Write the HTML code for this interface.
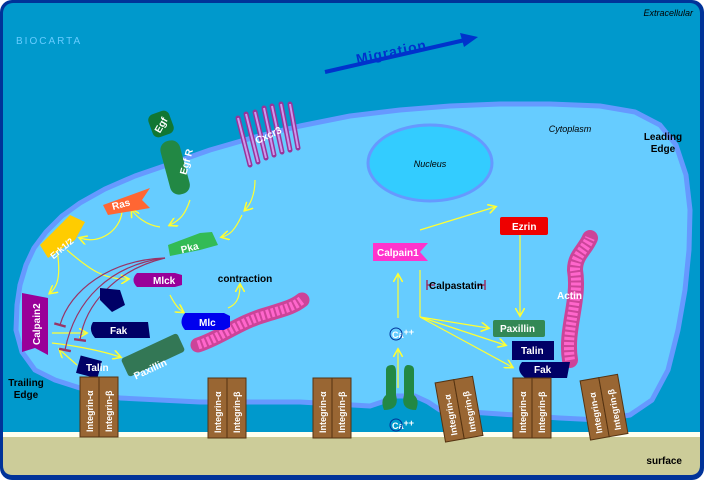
<!DOCTYPE html><html><head><style>body{margin:0;background:#fff}svg{display:block;font-family:"Liberation Sans",sans-serif}</style></head><body>
<svg width="704" height="480" viewBox="0 0 704 480">
<defs><marker id="a" markerWidth="8" markerHeight="8" refX="6" refY="4" orient="auto"><path d="M0,0 L7,4 L0,8" fill="none" stroke="#ffff33" stroke-width="1.3"/></marker>
<marker id="t" markerWidth="4" markerHeight="10" refX="2" refY="5" orient="auto"><path d="M2,0 L2,10" stroke="#993366" stroke-width="2"/></marker></defs>
<rect x="0" y="0" width="704" height="480" rx="12" fill="#003399"/>
<rect x="3" y="3" width="697" height="472" rx="10" fill="#0099cc"/>
<polygon points="16,330 17,305 20,285 26,265 34,248 46,232 62,216 80,203 105,189 135,176 170,164 210,150 255,137 300,126 350,116 400,110 450,106 500,104 550,104 600,106 635,112 660,125 676,145 686,175 690,210 689,250 685,290 678,330 668,370 652,400 630,415 600,420 560,418 500,414 440,410 428,402 415,396 395,396 382,402 370,406 300,402 200,402 120,398 80,388 55,380 35,370 22,352" fill="#66ccff" stroke="#6699ff" stroke-width="5" stroke-linejoin="round"/>
<rect x="3" y="432" width="697" height="6" fill="#ffffee"/>
<path d="M3,437 H700 V465 Q700,475 690,475 H13 Q3,475 3,465 Z" fill="#cccc99"/>
<text x="693" y="16" font-size="9" font-style="italic" text-anchor="end">Extracellular</text>
<text x="16" y="44" font-size="10" fill="#66ccff" letter-spacing="2">BIOCARTA</text>
<text x="682" y="464" font-size="10" font-weight="bold" text-anchor="end">surface</text>
<path d="M325,72 L465,40" stroke="#0033cc" stroke-width="4"/><path d="M478,37 L460,33 L464,47 Z" fill="#0033cc"/>
<text x="355" y="57" font-size="14" font-weight="bold" fill="#0033cc" transform="rotate(-12 390 50)" letter-spacing="1">Migration</text>
<ellipse cx="430" cy="163" rx="62" ry="38" fill="#33ccff" stroke="#6699ff" stroke-width="3"/>
<text x="430" y="167" font-size="9" font-style="italic" text-anchor="middle">Nucleus</text>
<text x="570" y="132" font-size="9" font-style="italic" text-anchor="middle">Cytoplasm</text>
<text x="663" y="140" font-size="10" font-weight="bold" text-anchor="middle">Leading</text><text x="663" y="152" font-size="10" font-weight="bold" text-anchor="middle">Edge</text>
<text x="26" y="386" font-size="10" font-weight="bold" text-anchor="middle">Trailing</text><text x="26" y="398" font-size="10" font-weight="bold" text-anchor="middle">Edge</text>
<g fill="none" stroke="#ffff33" stroke-width="1.2" marker-end="url(#a)">
<path d="M190,200 C185,215 180,220 170,225"/><path d="M160,227 C145,225 135,215 132,210"/>
<path d="M122,212 C120,230 100,245 80,238"/><path d="M255,180 C255,195 250,205 245,210"/><path d="M242,215 C235,230 230,235 222,237"/>
<path d="M57,248 C60,270 60,285 50,293"/><path d="M67,250 C90,270 105,280 128,279"/><path d="M170,295 C175,305 180,310 183,312"/>
<path d="M228,308 C235,305 240,300 240,285"/><path d="M52,333 L86,333"/><path d="M52,343 C70,345 100,350 120,357"/><path d="M77,365 L60,350"/>
<path d="M420,230 L495,207"/><path d="M520,217 L520,315"/><path d="M398,318 L398,275"/><path d="M398,388 L398,350"/>
<path d="M420,317 L488,328"/><path d="M420,317 L505,345"/><path d="M420,317 L512,367"/>
</g>
<path d="M420,270 L420,317" stroke="#ffff33" stroke-width="1.2"/>
<g fill="none" stroke="#993366" stroke-width="1.2" marker-end="url(#t)">
<path d="M165,258 C110,260 70,290 60,325"/><path d="M165,258 C110,265 75,300 65,350"/><path d="M165,258 C115,270 85,305 80,340"/>
</g>
<path d="M427,285 H435 M427,280 V290 M477,285 H485 M485,280 V290" stroke="#993366" stroke-width="1.5" fill="none"/>
<text x="456" y="289" font-size="10" font-weight="bold" text-anchor="middle">Calpastatin</text>
<text x="245" y="282" font-size="10" font-weight="bold" text-anchor="middle">contraction</text>
<g font-weight="bold" font-size="10" fill="#fff">
<rect x="150" y="112" width="22" height="24" rx="6" fill="#117733" transform="rotate(-20 161 124)"/><text x="152" y="128" transform="rotate(-60 161 124)">Egf</text>
<rect x="165" y="140" width="20" height="55" rx="9" fill="#228844" transform="rotate(-15 175 167)"/><text x="170" y="180" transform="rotate(-75 175 167)">Egf R</text>
<g stroke="#993399" stroke-width="5" stroke-linecap="round"><path d="M238,118 L250,165 M246,114 L258,162 M255,112 L266,158 M264,108 L274,155 M272,106 L282,152 M281,104 L290,150 M290,104 L298,148"/></g>
<g stroke="#cc99ee" stroke-width="2"><path d="M238,118 L250,165 M246,114 L258,162 M255,112 L266,158 M264,108 L274,155 M272,106 L282,152 M281,104 L290,150 M290,104 L298,148"/></g>
<text x="254" y="140" transform="rotate(-25 265 135)">Cxcr3</text>
<path d="M103,205 L150,188 L142,200 L150,208 L108,215 Z" fill="#ff6633"/><text x="112" y="208" transform="rotate(-15 120 205)">Ras</text>
<path d="M40,245 L70,215 L85,222 L75,240 L48,258 Z" fill="#ffcc00"/><text x="42" y="252" font-size="9" transform="rotate(-40 58 240)">Erk1/2</text>
<path d="M168,245 L200,233 L212,232 L218,245 L200,250 L170,256 Z" fill="#33bb55"/><text x="180" y="251" transform="rotate(-15 190 245)">Pka</text>
<path d="M137,273 H175 L182,275 V285 L175,287 H137 Q130,280 137,273 Z" fill="#990099"/><text x="153" y="284">Mlck</text>
<path d="M198,345 C220,338 240,322 265,315 C280,310 292,308 302,300" stroke="#cc4499" stroke-width="15" fill="none" stroke-linecap="round"/>
<path d="M198,345 C220,338 240,322 265,315 C280,310 292,308 302,300" stroke="#ff66cc" stroke-width="9" fill="none" stroke-dasharray="3 2"/>
<path d="M185,313 H224 L230,316 V327 L224,330 H185 Q178,322 185,313 Z" fill="#0000ee"/><text x="199" y="326">Mlc</text>
<path d="M100,288 L120,290 L125,305 L112,312 L100,300 Z" fill="#000066"/>
<path d="M93,322 H140 L148,322 L150,338 H95 Q88,330 93,322 Z" fill="#000066"/><text x="110" y="334">Fak</text>
<path d="M22,293 L48,298 L48,355 L35,348 L22,352 Z" fill="#990099"/><text x="40" y="345" transform="rotate(-90 40 345)">Calpain2</text>
<rect x="78" y="358" width="22" height="18" fill="#000066" transform="rotate(15 89 367)"/><text x="86" y="371">Talin</text>
<rect x="122" y="345" width="62" height="20" rx="3" fill="#337755" transform="rotate(-25 153 355)"/><text x="127" y="370" transform="rotate(-25 153 355)">Paxillin</text>
<path d="M570,360 C565,330 580,300 575,270 C575,255 585,250 590,238" stroke="#cc4499" stroke-width="16" fill="none" stroke-linecap="round"/>
<path d="M570,360 C565,330 580,300 575,270 C575,255 585,250 590,238" stroke="#ff66cc" stroke-width="10" fill="none" stroke-dasharray="3 2"/>
<text x="557" y="299">Actin</text>
<path d="M373,243 H428 L420,252 L428,261 H373 Z" fill="#ff33cc"/><text x="377" y="256">Calpain1</text>
<rect x="500" y="217" width="48" height="18" rx="2" fill="#ee0000"/><text x="512" y="230">Ezrin</text>
<rect x="493" y="320" width="52" height="17" rx="2" fill="#338855"/><text x="500" y="332">Paxillin</text>
<rect x="512" y="341" width="42" height="19" fill="#000066"/><text x="521" y="354">Talin</text>
<path d="M522,362 H570 L567,378 H525 Q515,370 522,362 Z" fill="#000066"/><text x="534" y="373">Fak</text>
<text x="392" y="338" font-size="9">Ca<tspan dy="-3">++</tspan></text><circle cx="396" cy="334" r="6" fill="none" stroke="#003399"/>
<text x="392" y="429" font-size="9">Ca<tspan dy="-3">++</tspan></text><circle cx="396" cy="425" r="6" fill="none" stroke="#003399"/>
<path d="M386,370 Q386,365 392,365 Q396,365 396,372 V395 Q400,410 384,410 Q380,400 386,395 Z" fill="#228844"/>
<path d="M414,370 Q414,365 408,365 Q404,365 404,372 V395 Q400,410 416,410 Q420,400 414,395 Z" fill="#228844"/>
<g font-size="9">
<g><rect x="80" y="377" width="19" height="60" fill="#996633" stroke="#553311"/><rect x="99" y="377" width="19" height="60" fill="#996633" stroke="#553311"/><text x="93" y="432" transform="rotate(-90 93 432)">Integrin-α</text><text x="112" y="432" transform="rotate(-90 112 432)">Integrin-β</text></g>
<g transform="translate(128,1)"><rect x="80" y="377" width="19" height="60" fill="#996633" stroke="#553311"/><rect x="99" y="377" width="19" height="60" fill="#996633" stroke="#553311"/><text x="93" y="432" transform="rotate(-90 93 432)">Integrin-α</text><text x="112" y="432" transform="rotate(-90 112 432)">Integrin-β</text></g>
<g transform="translate(233,1)"><rect x="80" y="377" width="19" height="60" fill="#996633" stroke="#553311"/><rect x="99" y="377" width="19" height="60" fill="#996633" stroke="#553311"/><text x="93" y="432" transform="rotate(-90 93 432)">Integrin-α</text><text x="112" y="432" transform="rotate(-90 112 432)">Integrin-β</text></g>
<g transform="translate(433,1)"><rect x="80" y="377" width="19" height="60" fill="#996633" stroke="#553311"/><rect x="99" y="377" width="19" height="60" fill="#996633" stroke="#553311"/><text x="93" y="432" transform="rotate(-90 93 432)">Integrin-α</text><text x="112" y="432" transform="rotate(-90 112 432)">Integrin-β</text></g>
<g transform="translate(360,2) rotate(-10 100 407)"><rect x="80" y="377" width="19" height="60" fill="#996633" stroke="#553311"/><rect x="99" y="377" width="19" height="60" fill="#996633" stroke="#553311"/><text x="93" y="432" transform="rotate(-90 93 432)">Integrin-α</text><text x="112" y="432" transform="rotate(-90 112 432)">Integrin-β</text></g>
<g transform="translate(505,0) rotate(-10 100 407)"><rect x="80" y="377" width="19" height="60" fill="#996633" stroke="#553311"/><rect x="99" y="377" width="19" height="60" fill="#996633" stroke="#553311"/><text x="93" y="432" transform="rotate(-90 93 432)">Integrin-α</text><text x="112" y="432" transform="rotate(-90 112 432)">Integrin-β</text></g>
</g>
</g>
</svg></body></html>
